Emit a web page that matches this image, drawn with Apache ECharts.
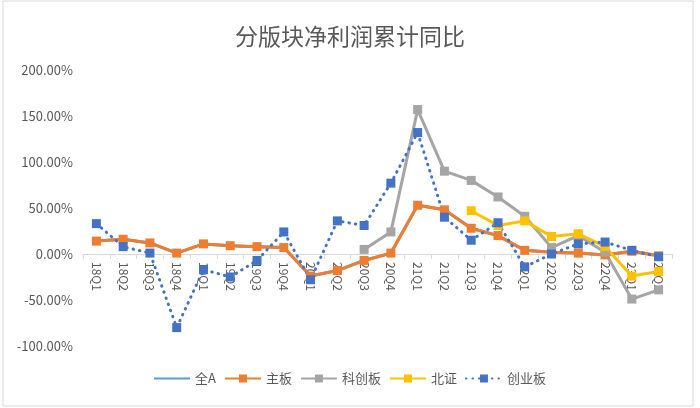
<!DOCTYPE html>
<html><head><meta charset="utf-8">
<script src="https://cdn.jsdelivr.net/npm/echarts@6/dist/echarts.min.js"></script>
<style>html,body{margin:0;padding:0;background:#fff}#c{width:700px;height:408px}</style>
</head><body><div id="c"></div>
<script>
const categories = ['18Q1','18Q2','18Q3','18Q4','19Q1','19Q2','19Q3','19Q4','20Q1','20Q2','20Q3','20Q4','21Q1','21Q2','21Q3','21Q4','22Q1','22Q2','22Q3','22Q4','23Q1','23Q2'];
const quanA   = [14, 16, 12, 1, 11, 9, 8, 7, -24, -18, -7, 1, 53, 48, 28, 20, 4, 2, 1, -1, 3, -2];
const zhuban  = [14, 16, 12, 1, 11, 9, 8, 7, -24, -18, -7, 1, 53, 48, 28, 20, 4, 2, 1, -1, 3, -2];
const kechuang= [null,null,null,null,null,null,null,null,null,null, 5, 24, 157, 90, 80, 62, 41, 7, 20, 2, -49, -39];
const beizheng= [null,null,null,null,null,null,null,null,null,null,null,null,null,null, 47, 31, 36, 19, 22, 8, -24, -19];
const chuangye= [33, 8, 1, -80, -17, -25, -7, 24, -28, 36, 31, 77, 132, 40, 15, 34, -14, 0, 11, 13, 4, -3];
const yTicks = {min: -100, max: 200, interval: 50};

const chart = echarts.init(document.getElementById('c'));
const txt = '#595959';
const font = '"Noto Sans CJK SC", "Noto Sans", sans-serif';
const gridTop = 70, gridBottom = 62, gridH = 408 - gridTop - gridBottom;
const zeroOffset = gridH * (0 - yTicks.min) / (yTicks.max - yTicks.min);
function ser(name, data, color, extra) {
  return Object.assign({
    name, type: 'line', data, connectNulls: false,
    symbol: 'rect', symbolSize: 9,
    itemStyle: {color},
    lineStyle: {color, width: 3},
    emphasis: {disabled: true}
  }, extra || {});
}
chart.setOption({
  animation: false,
  textStyle: {fontFamily: font},
  title: {text: '分版块净利润累计同比', left: 'center', top: 20,
    textStyle: {fontSize: 23, fontWeight: 'normal', color: txt, fontFamily: font}},
  graphic: [{type: 'rect', shape: {x: 3, y: 1, width: 690, height: 405},
    style: {fill: 'none', stroke: '#D9D9D9', lineWidth: 1}, silent: true}],
  grid: {left: 83, right: 28, top: gridTop, bottom: gridBottom},
  legend: {bottom: 18, left: 'center', itemWidth: 36, itemHeight: 10, itemGap: 8,
    textStyle: {color: txt, fontSize: 13, fontFamily: font},
    data: [{name: '全A', icon: 'path://M0,4 L36,4 L36,6 L0,6 Z'}, '主板','科创板','北证','创业板']},
  xAxis: {type: 'category', data: categories, boundaryGap: true,
    position: 'bottom', offset: -zeroOffset,
    axisLine: {onZero: false, lineStyle: {color: '#D9D9D9'}},
    axisTick: {show: true, length: 5, lineStyle: {color: '#D9D9D9'}},
    axisLabel: {rotate: -90, color: txt, fontSize: 12, interval: 0, margin: 8, fontFamily: font},
    splitLine: {show: false}},
  yAxis: {type: 'value', min: yTicks.min, max: yTicks.max, interval: yTicks.interval,
    axisLine: {show: false}, axisTick: {show: false}, splitLine: {show: false},
    axisLabel: {color: txt, fontSize: 13, margin: 10, fontFamily: font,
      formatter: v => v.toFixed(2) + '%'}},
  series: [
    ser('全A', quanA, '#5B9BD5', {symbol: 'none', lineStyle: {color: '#5B9BD5', width: 3}}),
    ser('主板', zhuban, '#ED7D31'),
    ser('科创板', kechuang, '#A5A5A5'),
    ser('北证', beizheng, '#FFC000'),
    ser('创业板', chuangye, '#4472C4', {lineStyle: {color: '#4472C4', width: 3, type: [0.5, 6], cap: 'round'}})
  ]
});
</script></body></html>
